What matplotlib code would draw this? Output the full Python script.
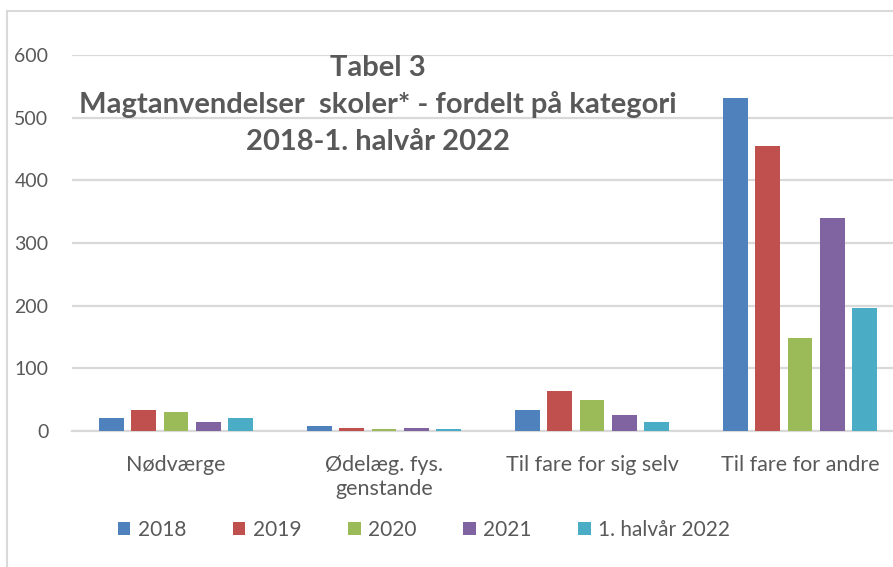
import numpy as np
import matplotlib
matplotlib.use("Agg")
import matplotlib.pyplot as plt
from matplotlib.patches import Rectangle

# Data
categories = ["Nødværge", "Ødelæg. fys.\ngenstande", "Til fare for sig selv", "Til fare for andre"]
series_names = ["2018", "2019", "2020", "2021", "1. halvår 2022"]
v2018 = [20, 8, 33, 531]
v2019 = [33, 5, 64, 455]
v2020 = [30, 3, 50, 148]
v2021 = [15, 4, 25, 340]
v2022 = [20, 3, 14, 197]
yticks = [0, 100, 200, 300, 400, 500, 600]
title_lines = ["Tabel 3",
               "Magtanvendelser  skoler* - fordelt på kategori",
               "2018-1. halvår 2022"]

colors = ["#4F81BD", "#C0504D", "#9BBB59", "#8064A2", "#4BACC6"]
grey_text = "#595959"
grid_col = "#D9D9D9"

plt.rcParams['font.family'] = ['Lato', 'DejaVu Sans']

fig = plt.figure(figsize=(8.93, 5.67), dpi=100)
# axes: left 72px, right ~904px, bottom y=431, top y=55
W, H = 893, 567
ax = fig.add_axes([72 / W, (H - 431) / H, (904 - 72) / W, (431 - 55) / H])

all_vals = [v2018, v2019, v2020, v2021, v2022]
x = np.arange(len(categories))
step = 0.154
width = 0.12
for i, (vals, name) in enumerate(zip(all_vals, series_names)):
    offs = (i - 2) * step
    ax.bar(x + offs, vals, width, color=colors[i], label=name, zorder=3)

ax.set_xlim(-0.5, len(categories) - 0.5)
ax.set_ylim(0, 600)
ax.set_yticks(yticks)
ax.yaxis.grid(True, color=grid_col, linewidth=1.6, zorder=0)
ax.set_axisbelow(True)
for s in ["top", "right", "left"]:
    ax.spines[s].set_visible(False)
ax.spines["bottom"].set_color(grid_col)
ax.spines["bottom"].set_linewidth(1.6)
ax.tick_params(axis="y", length=0, pad=17, labelsize=14, labelcolor=grey_text)
ax.tick_params(axis="x", length=0, pad=17, labelsize=15.5, labelcolor=grey_text)
ax.set_xticks(x)
ax.set_xticklabels(categories, linespacing=1.3)

# title
for line, ypx in zip(title_lines, [68, 105, 142]):
    fig.text(378 / W, 1 - ypx / H, line, ha="center", va="center",
             fontsize=21, fontweight="bold", color=grey_text)

# legend
leg = fig.legend(loc="center", bbox_to_anchor=(424 / W, 1 - 530 / H), ncol=5,
                 frameon=False, fontsize=15, handlelength=0.6, handleheight=0.6,
                 handletextpad=0.35, columnspacing=2.25)
for t in leg.get_texts():
    t.set_color(grey_text)

# outer chart border
fig.patches.append(Rectangle((7 / W, -0.05), 1.1, 1 - 11 / H + 0.05,
                             transform=fig.transFigure, fill=False,
                             edgecolor=grid_col, linewidth=1.5))

fig.savefig("out.png", dpi=100)
